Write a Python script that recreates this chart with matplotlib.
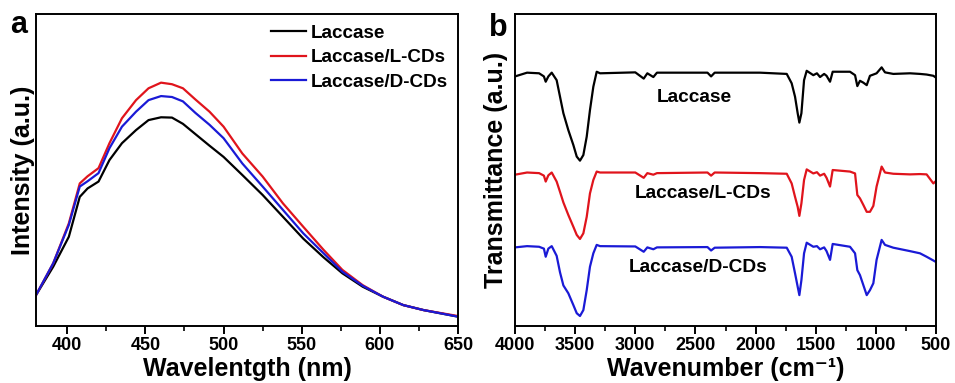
import numpy as np
import matplotlib
matplotlib.use('Agg')
import matplotlib.pyplot as plt
from matplotlib.ticker import MultipleLocator

plt.rcParams['font.family'] = ['Liberation Sans', 'DejaVu Sans']
plt.rcParams['font.weight'] = 'bold'

# panel a: fluorescence spectra
wl = [380, 391, 401, 408, 413, 420, 427, 435, 444, 452, 460, 467, 474, 482, 491,
      500, 512, 525, 538, 551, 564, 576, 589, 602, 615, 628, 650]
pl_laccase = [9.9, 19, 28.6, 41.4, 44.1, 46.3, 53.2, 58.6, 62.8, 66, 66.9, 66.8,
              64.8, 61.5, 57.8, 54.2, 48.4, 42, 35, 28, 22, 16.9, 12.6, 9.4, 6.7,
              5.1, 3.0]
pl_l_cds = [9.9, 20.1, 32.9, 45.7, 48, 50.6, 58.6, 66.6, 72.4, 76.2, 78, 77.5,
            76.2, 72.6, 68.7, 63.9, 55.3, 47.9, 39.3, 31.8, 24.4, 18, 13.1, 9.4,
            6.7, 5.1, 3.2]
pl_d_cds = [9.9, 20.1, 32.4, 44.7, 46.4, 49, 57, 63.9, 68.7, 72.4, 73.7, 73.4,
            72, 68.3, 64.5, 60.2, 52.1, 44.7, 37.2, 29.7, 23.3, 17.4, 12.9, 9.4,
            6.7, 5.1, 3.0]

# panel b: FTIR spectra
wn = [4000, 3900, 3800, 3760, 3745, 3723, 3695, 3654, 3626, 3598, 3557, 3515,
      3487, 3460, 3432, 3404, 3377, 3349, 3321, 3293, 3000, 2930, 2900, 2850,
      2820, 2400, 2370, 2340, 1963, 1741, 1700, 1672, 1650, 1636, 1619, 1597,
      1575, 1520, 1490, 1464, 1430, 1410, 1381, 1359, 1215, 1173, 1154, 1132,
      1104, 1076, 1049, 1021, 994, 952, 924, 855, 716, 633, 578, 522, 500]
ir_laccase = [80.0, 81.2, 81.0, 80.0, 78.3, 80.0, 81.2, 78.8, 73.5, 68.2, 62.8,
              58.0, 54.3, 53.0, 54.8, 60.7, 69.2, 76.7, 81.5, 81.0, 81.3, 79.3,
              81.0, 79.8, 81.2, 81.2, 80.0, 81.2, 81.2, 80.8, 77.8, 73.5, 68.2,
              65.2, 68.2, 78.8, 81.8, 80.4, 81.0, 79.8, 80.8, 80.2, 78.3, 81.5,
              81.5, 80.4, 76.9, 78.6, 78.0, 77.2, 80.2, 80.6, 81.0, 82.9, 81.3,
              80.8, 81.0, 80.8, 80.6, 80.2, 79.6]
ir_l_cds = [48.5, 49.2, 49.0, 48.2, 46.3, 48.3, 49.2, 46.3, 43.0, 39.6, 35.6,
            31.8, 29.2, 27.9, 29.7, 35.0, 42.5, 46.8, 49.5, 49.2, 49.2, 47.5,
            49.0, 48.5, 49.0, 49.2, 48.2, 49.2, 49.0, 48.8, 45.7, 41.4, 38.2,
            35.3, 39.3, 46.8, 50.2, 48.9, 49.3, 48.2, 48.8, 47.5, 44.7, 50.0,
            49.5, 48.9, 42.0, 40.9, 38.8, 36.6, 36.6, 38.5, 44.7, 51.1, 49.2,
            48.8, 48.6, 48.7, 48.6, 45.7, 46.5]
ir_d_cds = [25.2, 25.6, 25.4, 24.8, 22.2, 24.8, 25.6, 22.5, 17.2, 13.0, 10.5,
            6.7, 4.1, 3.2, 5.1, 11.5, 19.0, 23.3, 26.0, 25.6, 25.5, 23.8, 25.2,
            24.6, 25.2, 25.3, 24.2, 25.1, 25.3, 25.1, 22.2, 16.9, 12.6, 9.9,
            14.7, 23.3, 26.7, 25.4, 25.6, 24.6, 25.2, 24.0, 21.2, 26.3, 25.4,
            23.3, 17.9, 16.3, 13.1, 9.9, 11.5, 13.7, 21.2, 27.6, 26.0, 25.1,
            24.0, 23.3, 22.2, 21.0, 20.5]

names = ['Laccase', 'Laccase/L-CDs', 'Laccase/D-CDs']
colors = ['black', '#e0141c', '#1a1ad6']

fig = plt.figure(figsize=(9.55, 3.83), dpi=100)
ax1 = fig.add_axes([0.0377, 0.1488, 0.4419, 0.8146])
ax2 = fig.add_axes([0.5393, 0.1488, 0.4408, 0.8146])

for ys, name, c in zip([pl_laccase, pl_l_cds, pl_d_cds], names, colors):
    ax1.plot(wl, ys, color=c, lw=1.6, label=name)
ax1.set_xlim(380, 650)
ax1.set_ylim(0, 100)
ax1.xaxis.set_major_locator(MultipleLocator(50))
ax1.xaxis.set_minor_locator(MultipleLocator(25))
ax1.set_xlabel('Wavelentgth (nm)', fontsize=18, fontweight='bold', va='baseline')
ax1.xaxis.set_label_coords(0.5, -0.16)
ax1.set_ylabel('Intensity (a.u.)', fontsize=18, fontweight='bold', labelpad=1)
ax1.legend(loc='upper right', frameon=False, fontsize=13.6, handlelength=1.85,
           handletextpad=0.3, labelspacing=0.38, borderaxespad=0.0,
           bbox_to_anchor=(0.995, 0.99))

for ys, c in zip([ir_laccase, ir_l_cds, ir_d_cds], colors):
    ax2.plot(wn, ys, color=c, lw=1.6)
ax2.set_xlim(4000, 500)
ax2.set_ylim(0, 100)
ax2.xaxis.set_major_locator(MultipleLocator(500))
ax2.xaxis.set_minor_locator(MultipleLocator(250))
ax2.set_xlabel('Wavenumber (cm\u207b\u00b9)', fontsize=18, fontweight='bold',
               va='baseline')
ax2.xaxis.set_label_coords(0.5, -0.16)
ax2.set_ylabel('Transmittance (a.u.)', fontsize=18, fontweight='bold', labelpad=5)
ax2.text(2510, 73.4, 'Laccase', ha='center', va='center', fontsize=13.8, fontweight='bold')
ax2.text(2440, 42.5, 'Laccase/L-CDs', ha='center', va='center', fontsize=13.8, fontweight='bold')
ax2.text(2475, 18.8, 'Laccase/D-CDs', ha='center', va='center', fontsize=13.8, fontweight='bold')

for ax in (ax1, ax2):
    for s in ax.spines.values():
        s.set_linewidth(1.4)
    ax.tick_params(axis='x', which='major', direction='out', length=6, width=1.4,
                   labelsize=13, pad=2)
    ax.tick_params(axis='x', which='minor', direction='out', length=3.5, width=1.2)
    ax.tick_params(axis='y', left=False, labelleft=False, which='both')
    for lab in ax.get_xticklabels():
        lab.set_fontweight('bold')

fig.text(0.011, 0.915, 'a', fontsize=22, fontweight='bold')
fig.text(0.512, 0.905, 'b', fontsize=22, fontweight='bold')

fig.savefig('out.png', dpi=100)
